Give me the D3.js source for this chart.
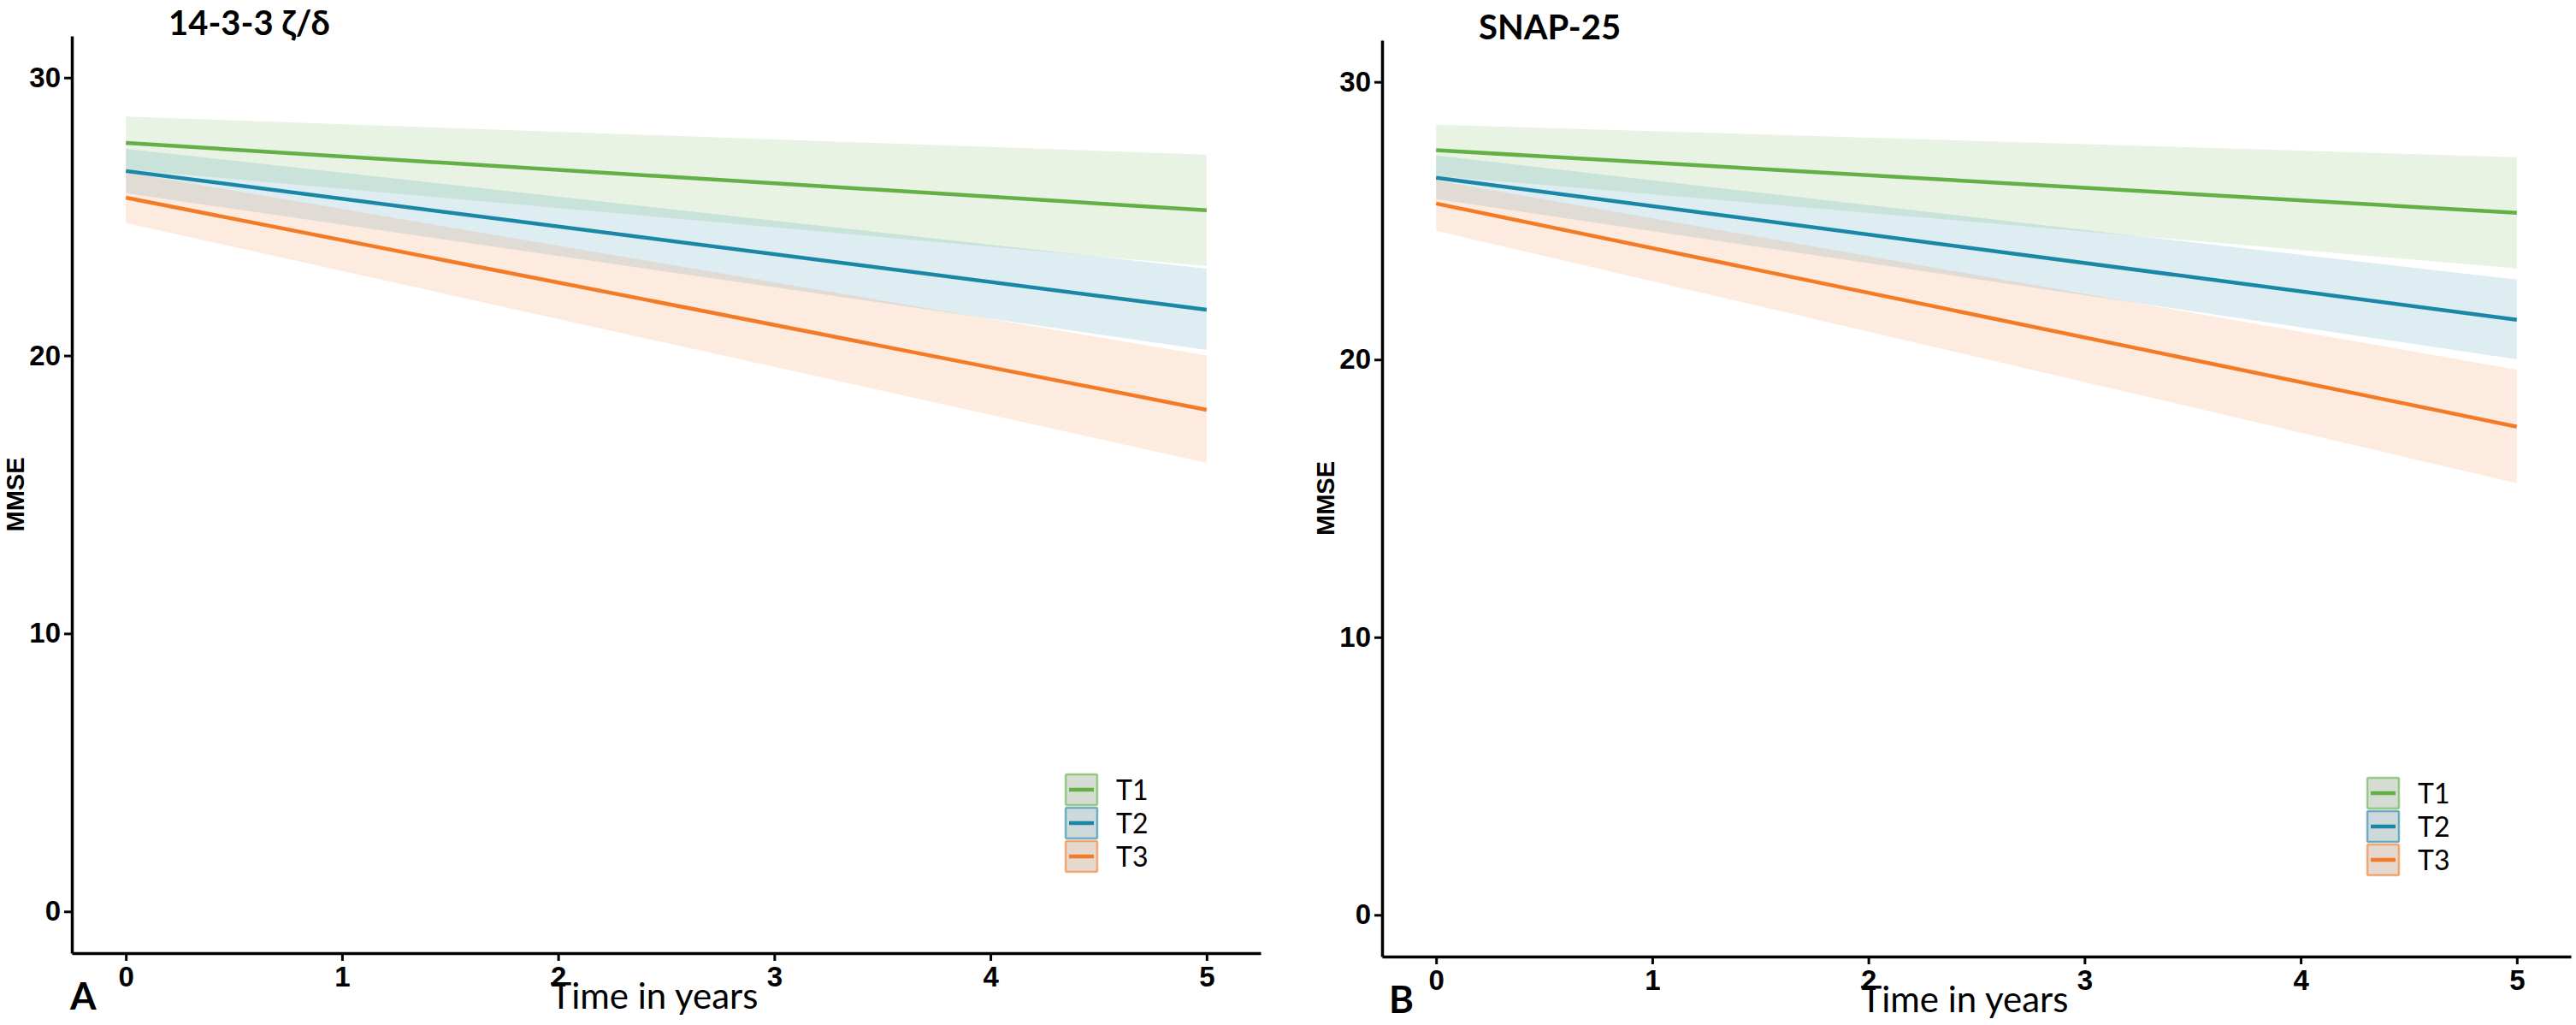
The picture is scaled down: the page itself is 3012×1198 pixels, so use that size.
<!DOCTYPE html>
<html>
<head>
<meta charset="utf-8">
<script src="https://cdn.jsdelivr.net/npm/d3@7"></script>
<style>
  html, body { margin: 0; padding: 0; background: #fff; }
  svg { display: block; }
</style>
</head>
<body>
<svg id="chart" width="3012" height="1198"></svg>
<script>
// ---------- data ----------
const times = [0, 5];
const groups = ["T1", "T2", "T3"];
const xTicks = [0, 1, 2, 3, 4, 5];
const yTicks = [0, 10, 20, 30];
const panelTitles = ["14-3-3 ζ/δ", "SNAP-25"];
const panelLetters = ["A", "B"];

// panel A (14-3-3 zeta/delta): fitted MMSE at times, lower and upper CI
const fitA   = [[27.65, 25.23], [26.64, 21.65], [25.68, 18.05]];
const lowerA = [[26.70, 23.22], [25.84, 20.20], [24.77, 16.14]];
const upperA = [[28.60, 27.23], [27.44, 23.13], [26.59, 20.00]];

// panel B (SNAP-25)
const fitB   = [[27.54, 25.28], [26.55, 21.43], [25.62, 17.58]];
const lowerB = [[26.62, 23.28], [25.78, 20.01], [24.64, 15.55]];
const upperB = [[28.46, 27.29], [27.35, 22.88], [26.45, 19.64]];

// ---------- styles ----------
const colors = ["#62B046", "#1B87A6", "#F47B26"];
const svg = d3.select("#chart");

const panels = [
  { fit: fitA, lo: lowerA, hi: upperA, x0: 84, x1: 1474, yTop: 42, yBot: 1114,
    title: panelTitles[0], letter: panelLetters[0], letterX: 82, legX: 1246 },
  { fit: fitB, lo: lowerB, hi: upperB, x0: 1616, x1: 3006, yTop: 47, yBot: 1118,
    title: panelTitles[1], letter: panelLetters[1], letterX: 1624, legX: 2768 }
];

panels.forEach(p => {
  const x = d3.scaleLinear().domain([-0.25, 5.25]).range([p.x0, p.x1]);
  const y = d3.scaleLinear().domain([-1.5, 31.5]).range([p.yBot, p.yTop]);
  const g = svg.append("g");

  // ribbons
  groups.forEach((grp, i) => {
    const pts = times.map((t, j) => ({ t, lo: p.lo[i][j], hi: p.hi[i][j] }));
    const area = d3.area().x(d => x(d.t)).y0(d => y(d.lo)).y1(d => y(d.hi));
    g.append("path").attr("d", area(pts))
      .attr("fill", colors[i]).attr("fill-opacity", 0.15);
  });
  // lines
  groups.forEach((grp, i) => {
    const pts = times.map((t, j) => ({ t, v: p.fit[i][j] }));
    const line = d3.line().x(d => x(d.t)).y(d => y(d.v));
    g.append("path").attr("d", line(pts))
      .attr("fill", "none").attr("stroke", colors[i]).attr("stroke-width", 4.5);
  });

  // axes
  const xAxis = d3.axisBottom(x).tickValues(xTicks).tickFormat(d3.format("d"))
    .tickSize(9).tickSizeOuter(0).tickPadding(7);
  const yAxis = d3.axisLeft(y).tickValues(yTicks).tickFormat(d3.format("d"))
    .tickSize(9).tickSizeOuter(0).tickPadding(4);
  const gx = g.append("g").attr("transform", `translate(0,${p.yBot})`).call(xAxis);
  const gy = g.append("g").attr("transform", `translate(${p.x0},0)`).call(yAxis);
  [gx, gy].forEach(ax => {
    ax.select(".domain").attr("stroke", "#000").attr("stroke-width", 3.5);
    ax.selectAll(".tick line").attr("stroke", "#000").attr("stroke-width", 3);
    ax.selectAll(".tick text")
      .attr("fill", "#000")
      .style("font-family", "'Liberation Sans Narrow', 'Liberation Sans', Arial, sans-serif")
      .style("font-weight", "bold")
      .style("font-size", "33px");
  });

  // y title
  g.append("text")
    .attr("transform", `translate(${p.x0 - 56},${(p.yTop + p.yBot) / 2}) rotate(-90)`)
    .attr("text-anchor", "middle")
    .style("font-family", "'Liberation Sans', Arial, sans-serif")
    .style("font-weight", "bold").style("font-size", "29px")
    .text("MMSE");

  // x title
  g.append("text")
    .attr("x", (p.x0 + p.x1) / 2 - 14).attr("y", p.yBot + 65)
    .attr("text-anchor", "middle")
    .style("font-family", "Lato, 'Noto Sans', sans-serif")
    .style("font-size", "42px")
    .text("Time in years");

  // panel letter
  g.append("text")
    .attr("x", p.letterX).attr("y", p.yBot + 66)
    .style("font-family", "Lato, 'Noto Sans', sans-serif")
    .style("font-weight", "bold").style("font-size", "44px")
    .text(p.letter);

  // title
  g.append("text")
    .attr("x", p.x0 + 113).attr("y", 41 + (p.yTop - 42))
    .style("font-family", "Lato, 'Noto Sans', sans-serif")
    .style("font-weight", "bold").style("font-size", "40px")
    .text(p.title);

  // legend
  const legY = p.yBot - 209;
  groups.forEach((grp, i) => {
    const ky = legY + i * 39;
    const lg = g.append("g").attr("transform", `translate(${p.legX},${ky})`);
    lg.append("rect").attr("x", 0).attr("y", 0).attr("width", 37).attr("height", 36)
      .attr("fill", "#e3e3e3");
    lg.append("rect").attr("x", 0).attr("y", 0).attr("width", 37).attr("height", 36)
      .attr("fill", colors[i]).attr("fill-opacity", 0.1)
      .attr("stroke", colors[i]).attr("stroke-opacity", 0.6).attr("stroke-width", 2.5)
      .attr("rx", 1.5);
    lg.append("line").attr("x1", 4).attr("x2", 33).attr("y1", 18).attr("y2", 18)
      .attr("stroke", colors[i]).attr("stroke-width", 4.5);
    lg.append("text").attr("x", 59).attr("y", 30)
      .style("font-family", "Lato, 'Noto Sans', sans-serif")
      .style("font-size", "32px")
      .text(grp);
  });
});
</script>
</body>
</html>
